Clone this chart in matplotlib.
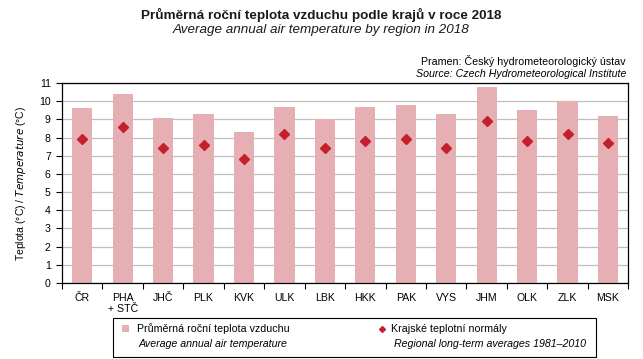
import numpy as np
import matplotlib.pyplot as plt
from matplotlib.patches import Rectangle
from matplotlib.lines import Line2D

plt.rcParams['font.family'] = ['Liberation Sans', 'DejaVu Sans']

# data
regions = ['ČR', 'PHA\n+ STČ', 'JHČ', 'PLK', 'KVK', 'ULK', 'LBK',
           'HKK', 'PAK', 'VYS', 'JHM', 'OLK', 'ZLK', 'MSK']
temp_2018 = [9.6, 10.4, 9.1, 9.3, 8.3, 9.7, 9.0, 9.7, 9.8, 9.3, 10.8, 9.5, 10.0, 9.2]
normals = [7.9, 8.6, 7.4, 7.6, 6.8, 8.2, 7.4, 7.8, 7.9, 7.4, 8.9, 7.8, 8.2, 7.7]

bar_color = '#E6AFB3'
dot_color = '#C3202B'

W, H = 643, 359
fig = plt.figure(figsize=(W / 100, H / 100), dpi=100)
ax = fig.add_axes([0.0964, 0.2117, 0.8806, 0.5571])


def fpos(px, py):
    # pixel position (from top left) -> figure fraction
    return px / W, 1 - py / H


x = np.arange(len(regions))
ax.bar(x, temp_2018, width=0.5, color=bar_color, zorder=2)
ax.plot(x, normals, linestyle='none', marker='D', markersize=5,
        color=dot_color, zorder=3)

ax.set_xlim(-0.5, len(regions) - 0.5)
ax.set_ylim(0, 11)
ax.set_yticks(range(0, 12))
ax.grid(axis='y', color='#BFBFBF', linewidth=0.9, zorder=0)
ax.set_axisbelow(True)

ax.set_xticks(x)
ax.set_xticklabels(regions, fontsize=7.6, linespacing=1.1)
ax.set_xticks(np.arange(-0.5, len(regions)), minor=True)
ax.tick_params(axis='x', which='major', length=0, pad=7)
ax.tick_params(axis='x', which='minor', length=4, width=0.8, direction='out')
ax.tick_params(axis='y', length=4, width=0.8, direction='out', labelsize=7.6, pad=4)
for s in ax.spines.values():
    s.set_linewidth(0.9)
    s.set_color('black')

ax.set_ylabel('Teplota (°C) / $\\it{Temperature}$ (°C)', fontsize=7.5, labelpad=8)

# titles and source
fig.text(*fpos(321.5, 15), 'Průměrná roční teplota vzduchu podle krajů v roce 2018',
         ha='center', va='center', fontsize=9.7, fontweight='bold', color='#1a1a1a')
fig.text(*fpos(321.5, 30), 'Average annual air temperature by region in 2018',
         ha='center', va='center', fontsize=9.7, style='italic', color='#1a1a1a')
fig.text(*fpos(626, 61), 'Pramen: Český hydrometeorologický ústav',
         ha='right', va='center', fontsize=7.7)
fig.text(*fpos(626, 74), 'Source: Czech Hydrometeorological Institute',
         ha='right', va='center', fontsize=7.7, style='italic')

# legend drawn by hand: czech label over english one
x0, y0 = fpos(113, 356.5)
x1, y1 = fpos(596, 317.5)
fig.add_artist(Rectangle((x0, y0), x1 - x0, y1 - y0, transform=fig.transFigure,
                         facecolor='white', edgecolor='black', linewidth=0.8))
sx, sy = fpos(121.5, 332)
fig.add_artist(Rectangle((sx, sy), 7 / W, 7 / H, transform=fig.transFigure,
                         facecolor=bar_color, edgecolor='none'))
dx, dy = fpos(382, 328.5)
fig.add_artist(Line2D([dx], [dy], transform=fig.transFigure, linestyle='none',
                      marker='D', markersize=3, color=dot_color))
fig.text(*fpos(137, 328.5), 'Průměrná roční teplota vzduchu', ha='left', va='center',
         fontsize=7.7)
fig.text(*fpos(139, 344), 'Average annual air temperature', ha='left', va='center',
         fontsize=7.7, style='italic')
fig.text(*fpos(391, 328.5), 'Krajské teplotní normály', ha='left', va='center',
         fontsize=7.7)
fig.text(*fpos(394, 344), 'Regional long-term averages 1981–2010', ha='left', va='center',
         fontsize=7.7, style='italic')

fig.savefig('out.png', dpi=100)
